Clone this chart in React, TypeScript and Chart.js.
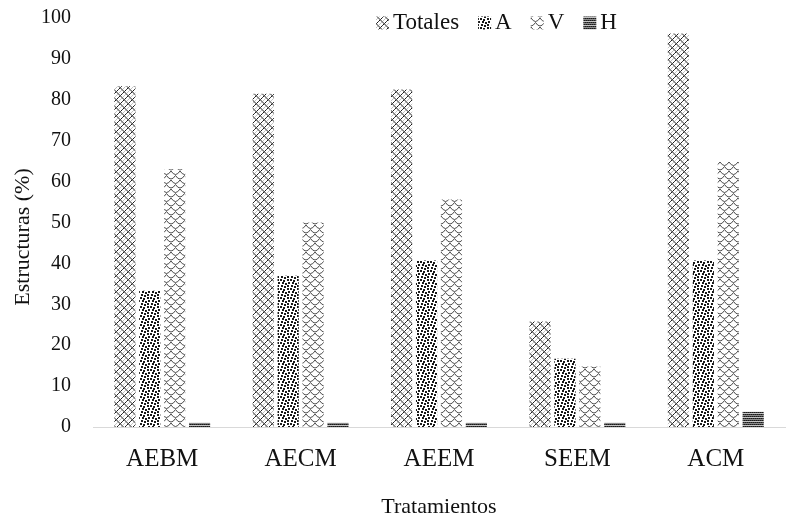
import React, { useEffect, useRef } from "react";
import { Chart, registerables } from "chart.js";

Chart.register(...registerables);

const categories = ["AEBM", "AECM", "AEEM", "SEEM", "ACM"];
const seriesNames = ["Totales", "A", "V", "H"];
const totales = [83.3, 81.5, 82.5, 25.8, 96.2];
const aValues = [33.3, 37.0, 40.7, 16.7, 40.7];
const vValues = [63.0, 50.0, 55.6, 14.8, 64.8];
const hValues = [1.0, 1.0, 1.0, 1.0, 3.7];
const yTicks = [0, 10, 20, 30, 40, 50, 60, 70, 80, 90, 100];
const xTitle = "Tratamientos";
const yTitle = "Estructuras (%)";

const FONT = "'Liberation Serif', 'Times New Roman', serif";

function tileCanvas(w: number, h: number) {
  const c = document.createElement("canvas");
  c.width = w;
  c.height = h;
  const ctx = c.getContext("2d") as CanvasRenderingContext2D;
  ctx.fillStyle = "#fff";
  ctx.fillRect(0, 0, w, h);
  return { c, ctx };
}

function pixelPattern(rows: string[], colors: Record<string, string>): CanvasPattern | string {
  const { c, ctx } = tileCanvas(rows[0].length, rows.length);
  rows.forEach((row, y) => {
    for (let x = 0; x < row.length; x++) {
      const ch = row[x];
      if (colors[ch]) {
        ctx.fillStyle = colors[ch];
        ctx.fillRect(x, y, 1, 1);
      }
    }
  });
  return ctx.createPattern(c, "repeat") || "#888";
}

function makePatterns() {
  const cols = { k: "#1a1a1a", g: "#8c8c8c", d: "#444444", l: "#c4c4c4" };
  // Totales: gray diagonal weave with black accents
  const totalesRows: string[] = [];
  for (let r = 0; r < 8; r++) {
    const arr = Array(8).fill(".");
    arr[r % 8] = "g";
    arr[(r + 1) % 8] = "g";
    arr[(7 - r + 8) % 8] = r % 2 === 0 ? "k" : "d";
    const j = (3 - r + 8) % 8;
    if (arr[j] === ".") arr[j] = "l";
    totalesRows.push(arr.join(""));
  }
  // A: large confetti
  const aW = 10, aH = 9;
  const aGrid = Array.from({ length: aH }, () => Array(aW).fill("."));
  const squares = [
    [0, 0], [3, 1], [7, 0],
    [2, 3], [5, 4], [8, 3],
    [1, 6], [4, 7], [7, 6],
  ];
  squares.forEach(([x, y]) => {
    for (let dx = 0; dx < 2; dx++)
      for (let dy = 0; dy < 2; dy++) aGrid[(y + dy) % aH][(x + dx) % aW] = "k";
  });
  // V: shingle curves (lighter)
  const v = tileCanvas(9, 9);
  v.ctx.strokeStyle = "#4a4a4a";
  v.ctx.lineWidth = 1;
  const curves = [
    [0, 0, 4.5, 7, 9, 0],
    [-4.5, 4.5, 0, 11.5, 4.5, 4.5],
    [4.5, 4.5, 9, 11.5, 13.5, 4.5],
    [-4.5, -4.5, 0, 2.5, 4.5, -4.5],
    [4.5, -4.5, 9, 2.5, 13.5, -4.5],
    [0, 9, 4.5, 16, 9, 9],
  ];
  curves.forEach(([x0, y0, cx, cy, x1, y1]) => {
    v.ctx.beginPath();
    v.ctx.moveTo(x0, y0);
    v.ctx.quadraticCurveTo(cx, cy, x1, y1);
    v.ctx.stroke();
  });
  const vPattern = v.ctx.createPattern(v.c, "repeat") || "#999";
  // H: small grid
  const hRows = ["kdkd", "llll", "dkdk", "gggg"];
  return [
    pixelPattern(totalesRows, cols),
    pixelPattern(aGrid.map((r) => r.join("")), cols),
    vPattern,
    pixelPattern(hRows, cols),
  ];
}

export default function App() {
  const canvasRef = useRef<HTMLCanvasElement | null>(null);

  useEffect(() => {
    document.body.style.margin = "0";
    const canvas = canvasRef.current;
    if (!canvas) return;
    const patterns = makePatterns();
    const data = [totales, aValues, vValues, hValues];

    const overlayPlugin = {
      id: "overlayText",
      afterDraw(chart: any) {
        const ctx = chart.ctx as CanvasRenderingContext2D;
        ctx.save();
        // legend
        ctx.font = `23px ${FONT}`;
        ctx.textBaseline = "middle";
        ctx.textAlign = "left";
        const boxSize = 13;
        const y = 23;
        let x = 376;
        const gapAfterText = 19;
        seriesNames.forEach((name, i) => {
          ctx.fillStyle = patterns[i] as any;
          ctx.fillRect(x, y - boxSize / 2, boxSize, boxSize);
          ctx.fillStyle = "#111";
          const tx = x + boxSize + 4;
          ctx.fillText(name, tx, y);
          x = tx + ctx.measureText(name).width + gapAfterText;
        });
        // axis titles
        const area = chart.chartArea;
        ctx.font = `22px ${FONT}`;
        ctx.textAlign = "center";
        ctx.fillStyle = "#111";
        ctx.fillText(xTitle, (area.left + area.right) / 2, 507);
        ctx.translate(23, 237);
        ctx.rotate(-Math.PI / 2);
        ctx.fillText(yTitle, 0, 0);
        ctx.restore();
      },
    };

    const chart = new Chart(canvas, {
      type: "bar",
      data: {
        labels: categories,
        datasets: seriesNames.map((name, i) => ({
          label: name,
          data: data[i],
          backgroundColor: patterns[i] as any,
          borderWidth: 0,
          categoryPercentage: 0.72,
          barPercentage: 0.85,
        })),
      },
      options: {
        animation: false,
        responsive: false,
        maintainAspectRatio: false,
        layout: { padding: { top: 18, right: 7, left: 0, bottom: 0 } },
        plugins: {
          legend: { display: false },
          tooltip: { enabled: false },
        },
        scales: {
          x: {
            grid: { display: false, drawTicks: false },
            border: { display: true, color: "#d9d9d9", width: 1 },
            ticks: {
              color: "#111",
              font: { family: FONT, size: 25 },
              padding: 17,
              maxRotation: 0,
            },
            afterFit: (s: any) => {
              s.height = 91;
              s.paddingLeft = 0;
              s.paddingRight = 0;
            },
          },
          y: {
            min: 0,
            max: 100,
            afterBuildTicks: (s: any) => {
              s.ticks = yTicks.map((v) => ({ value: v }));
            },
            grid: { display: false, drawTicks: false },
            border: { display: false },
            ticks: {
              color: "#111",
              font: { family: FONT, size: 20 },
              padding: 22,
            },
            afterFit: (s: any) => {
              s.width = 93;
              s.paddingTop = 0;
              s.paddingBottom = 0;
            },
          },
        },
      },
      plugins: [overlayPlugin],
    });
    return () => chart.destroy();
  }, []);

  return (
    <div style={{ width: 792, height: 518 }}>
      <canvas ref={canvasRef} width={792} height={518} style={{ width: 792, height: 518, display: "block" }} />
    </div>
  );
}
